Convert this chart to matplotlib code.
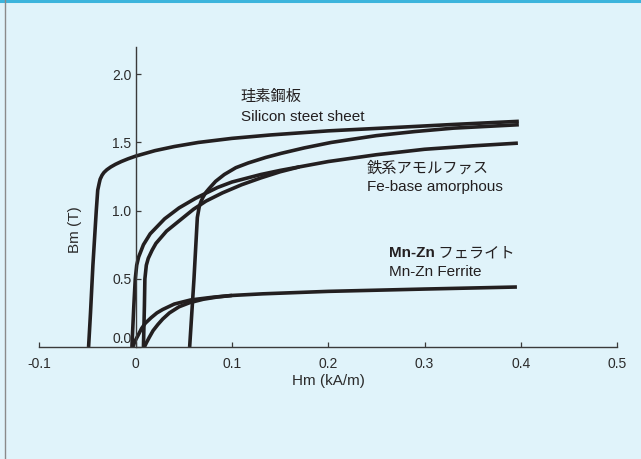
import matplotlib
matplotlib.use("Agg")
import matplotlib.pyplot as plt
from matplotlib.lines import Line2D
from matplotlib.transforms import ScaledTranslation

# --- data (H in kA/m, B in T) ---
si_down_h = [0.398, 0.33, 0.27, 0.20, 0.14, 0.10, 0.065, 0.04, 0.02, 0.0, -0.008, -0.015,
             -0.021, -0.026, -0.030, -0.033, -0.035, -0.037, -0.038, -0.0395, -0.041,
             -0.0445, -0.047, -0.049]
si_down_b = [1.655, 1.632, 1.61, 1.585, 1.555, 1.53, 1.50, 1.47, 1.44, 1.40, 1.38, 1.36,
             1.34, 1.32, 1.30, 1.28, 1.26, 1.23, 1.20, 1.15, 1.00,
             0.60, 0.25, 0.0]

si_up_h = [0.056, 0.0605, 0.064, 0.066, 0.068, 0.070, 0.073, 0.076, 0.083, 0.092, 0.104, 0.117,
           0.135, 0.151, 0.175, 0.203, 0.25, 0.29, 0.33, 0.398]
si_up_b = [0.0, 0.5, 0.95, 1.03, 1.07, 1.10, 1.135, 1.16, 1.215, 1.265, 1.315, 1.35,
           1.39, 1.42, 1.46, 1.50, 1.55, 1.58, 1.605, 1.63]

fe_outer_h = [-0.004, -0.002, -0.0005, 0.001, 0.003, 0.008, 0.015, 0.03, 0.045, 0.062, 0.085,
              0.10, 0.13, 0.15, 0.20, 0.25, 0.30, 0.35, 0.397]
fe_outer_b = [0.0, 0.3, 0.5, 0.6, 0.66, 0.75, 0.83, 0.94, 1.02, 1.09, 1.17,
              1.21, 1.265, 1.295, 1.36, 1.41, 1.45, 1.475, 1.495]

fe_inner_h = [0.008, 0.009, 0.0095, 0.011, 0.013, 0.017, 0.021, 0.032, 0.046, 0.060, 0.073,
              0.09, 0.11, 0.13, 0.15, 0.17]
fe_inner_b = [0.0, 0.3, 0.5, 0.6, 0.65, 0.71, 0.76, 0.85, 0.93, 1.01, 1.07,
              1.13, 1.19, 1.24, 1.285, 1.321]

mz_outer_h = [-0.003, -0.001, 0.002, 0.006, 0.010, 0.016, 0.022, 0.028, 0.040, 0.057, 0.08,
              0.10, 0.132, 0.2, 0.3, 0.396]
mz_outer_b = [0.0, 0.04, 0.08, 0.135, 0.175, 0.215, 0.25, 0.275, 0.315, 0.345, 0.365,
              0.378, 0.39, 0.408, 0.425, 0.44]

mz_inner_h = [0.009, 0.011, 0.014, 0.018, 0.023, 0.028, 0.035, 0.045, 0.056, 0.07, 0.085, 0.10]
mz_inner_b = [0.0, 0.03, 0.07, 0.12, 0.165, 0.205, 0.25, 0.295, 0.325, 0.35, 0.367, 0.378]

x_ticks = [-0.1, 0, 0.1, 0.2, 0.3, 0.4, 0.5]
x_labels = ["-0.1", "0", "0.1", "0.2", "0.3", "0.4", "0.5"]
y_ticks = [0.0, 0.5, 1.0, 1.5, 2.0]
y_labels = ["0.0", "0.5", "1.0", "1.5", "2.0"]

BG = "#e0f3fa"
INK = "#231f20"
AXC = "#3a3a3a"
LATIN = ["Liberation Sans", "DejaVu Sans"]
CJK = ["Noto Sans CJK JP", "DejaVu Sans"]

plt.rcParams["font.family"] = LATIN

fig = plt.figure(figsize=(6.41, 4.59), dpi=100, facecolor=BG)
ax = fig.add_axes([0.0616, 0.244, 0.901, 0.6536])
ax.set_facecolor(BG)

curves = [(si_down_h, si_down_b), (si_up_h, si_up_b),
          (fe_outer_h, fe_outer_b), (fe_inner_h, fe_inner_b),
          (mz_outer_h, mz_outer_b), (mz_inner_h, mz_inner_b)]
for h, b in curves:
    ax.plot(h, b, color=INK, lw=2.6, solid_capstyle="butt", solid_joinstyle="round")

ax.set_xlim(-0.1, 0.5)
ax.set_ylim(0, 2.2)

for side in ["top", "right"]:
    ax.spines[side].set_visible(False)
ax.spines["left"].set_position(("data", 0))
for side in ["left", "bottom"]:
    ax.spines[side].set_color(AXC)
    ax.spines[side].set_linewidth(1.0)

ax.set_xticks(x_ticks)
ax.set_xticklabels(x_labels)
ax.set_yticks(y_ticks)
ax.set_yticklabels(y_labels)
ax.tick_params(axis="both", direction="in", length=3.5, width=0.9, color=AXC,
               labelsize=10, labelcolor="#2b2b2b")
ax.tick_params(axis="x", pad=7)
ax.tick_params(axis="y", pad=3)

# raise the "0.0" label off the x axis like the original
lbl0 = ax.get_yticklabels()[0]
lbl0.set_transform(lbl0.get_transform() + ScaledTranslation(0, 7 / 72, fig.dpi_scale_trans))

ax.set_xlabel("Hm (kA/m)", fontsize=11, color="#2b2b2b")
ax.xaxis.set_label_coords(0.5, -0.09)
ax.set_ylabel("Bm (T)", fontsize=11, color="#2b2b2b")
ax.yaxis.set_label_coords(0.0736, 0.39)

# curve labels
ax.text(0.109, 1.84, "珪素鋼板", family=CJK, fontsize=11, color=INK, va="center")
ax.text(0.109, 1.69, "Silicon steet sheet", fontsize=11, color=INK, va="center")
ax.text(0.240, 1.31, "鉄系アモルファス", family=CJK, fontsize=11, color=INK, va="center")
ax.text(0.240, 1.17, "Fe-base amorphous", fontsize=11, color=INK, va="center")
t = ax.text(0.263, 0.69, "Mn-Zn", fontsize=11, fontweight="bold", color=INK, va="center")
ax.annotate(" フェライト", xy=(1, 0.5), xycoords=t, va="center", ha="left",
            family=CJK, fontsize=11, color=INK)
ax.text(0.263, 0.55, "Mn-Zn Ferrite", fontsize=11, color=INK, va="center")

# panel frame: blue rule on top, grey rule on the left
fig.add_artist(Line2D([0, 1], [0.998, 0.998], transform=fig.transFigure, color="#3cb4dc", lw=2.2))
fig.add_artist(Line2D([0.0075, 0.0075], [0, 1], transform=fig.transFigure, color="#8a8a8a", lw=1.0))

fig.savefig("out.png", dpi=100, facecolor=BG)
